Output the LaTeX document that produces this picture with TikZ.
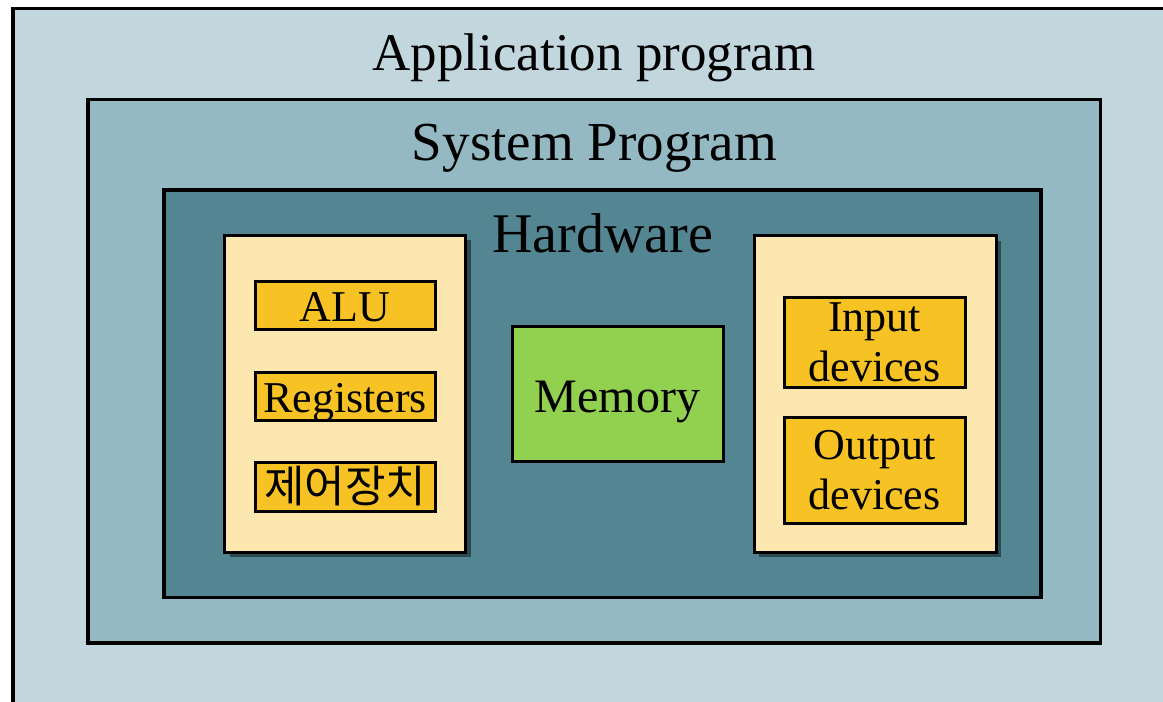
\documentclass[tikz,border=0pt]{standalone}
\usepackage{fontspec}
\setmainfont{Liberation Serif}
\newfontfamily\kor{Noto Sans CJK KR}
\usetikzlibrary{shadows}
\definecolor{appblue}{HTML}{C2D6DD}
\definecolor{sysblue}{HTML}{94B9C3}
\definecolor{hwblue}{HTML}{538692}
\definecolor{panelcream}{HTML}{FCE7B0}
\definecolor{unityellow}{HTML}{F7C224}
\definecolor{memgreen}{HTML}{92D050}
\begin{document}
\begin{tikzpicture}[x=1pt,y=-1pt]
    \tikzstyle{every node}=[inner sep=0pt,outer sep=0pt];
    \tikzstyle{layer}=[draw,line width=3.5pt];
    \tikzstyle{panel}=[draw,line width=3pt,fill=panelcream,
      drop shadow={shadow xshift=5pt,shadow yshift=-5pt,opacity=.45,fill=black}];
    \tikzstyle{unit}=[draw,line width=3pt,fill=unityellow,align=center,
      font=\fontsize{44}{50}\selectfont];
    \tikzstyle{oneline}=[text height=38.7pt,text depth=6.6pt];
    %\node (name) at (x,y) [options] {text};
    \clip (0,0) rectangle (1163,702);
    % layers
    \node[layer,fill=appblue,minimum width=1187,minimum height=741] (app) at (606.5,379) {};
    \node[layer,fill=sysblue,minimum width=1012.5,minimum height=543.5] (sys) at (594.25,371.25) {};
    \node[layer,fill=hwblue,minimum width=877,minimum height=407.5] (hw) at (602.5,393.75) {};
    \node[anchor=base,font=\fontsize{53}{60}\selectfont] (apptitle) at (594,70) {Application program};
    \node[anchor=base,font=\fontsize{55}{60}\selectfont] (systitle) at (594.5,160) {System Program};
    \node[anchor=base,font=\fontsize{56}{60}\selectfont] (hwtitle) at (602.5,252) {Hardware};
    % hardware parts
    \node[panel,minimum width=241,minimum height=317] (cpu) at (345,393.5) {};
    \node[panel,minimum width=242,minimum height=316.5] (io) at (875,393.75) {};
    \node[unit,oneline,minimum width=180,minimum height=48.5] (alu) at (345,305.25) {ALU};
    \node[unit,oneline,minimum width=180,minimum height=48] (reg) at (345,396) {Registers};
    \node[unit,oneline,minimum width=180,minimum height=49] (ctrl) at (345,486.5) {\kor 제어장치};
    \node[draw,line width=3pt,fill=memgreen,minimum width=211,minimum height=135,
      font=\fontsize{48}{50}\selectfont,text height=44.2pt,text depth=7.2pt] (mem) at (617.5,393.5) {Memory};
    \node[unit,minimum width=181,minimum height=90] (input) at (874.5,342) {Input\\devices};
    \node[unit,minimum width=181,minimum height=105.5] (output) at (874.5,470.5) {Output\\devices};
\end{tikzpicture}
\end{document}
